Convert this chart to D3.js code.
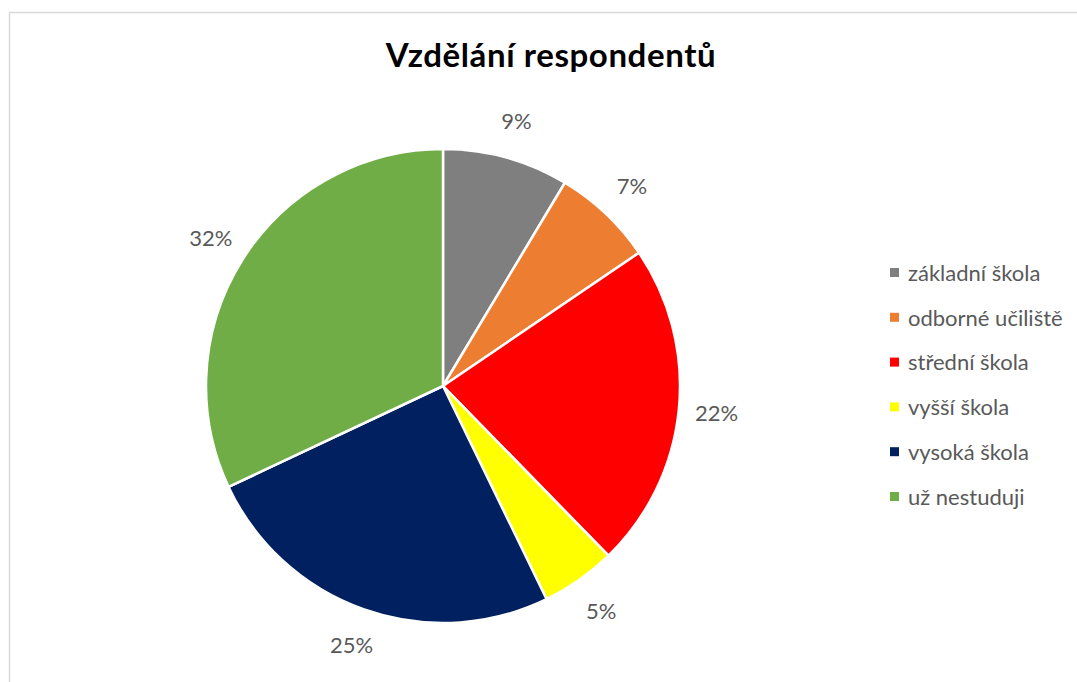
<!DOCTYPE html>
<html>
<head>
  <meta charset="utf-8">
  <script src="https://d3js.org/d3.v7.min.js"></script>
  <style>
    body { margin: 0; background: #fff; }
    text { font-family: Lato, "Open Sans", sans-serif; }
  </style>
</head>
<body>
<script>
  // data (share of respondents, %)
  var categories = ["základní škola", "odborné učiliště", "střední škola", "vyšší škola", "vysoká škola", "už nestuduji"];
  var shares = [8.6, 6.9, 22.2, 5.1, 25.2, 32.0];
  var colors = ["#7f7f7f", "#ed7d31", "#ff0000", "#ffff00", "#002060", "#70ad47"];

  var width = 1077, height = 682;
  var cx = 443, cy = 386, radius = 237;

  var svg = d3.select("body").append("svg")
      .attr("width", width)
      .attr("height", height);

  // chart area frame (only top/left visible in the crop)
  svg.append("rect")
      .attr("x", 9.5).attr("y", 12.5)
      .attr("width", width + 20).attr("height", height + 20)
      .attr("fill", "#fff")
      .attr("stroke", "#d9d9d9")
      .attr("stroke-width", 1.5);

  svg.append("text")
      .attr("x", 551).attr("y", 67)
      .attr("text-anchor", "middle")
      .style("font-size", "33px")
      .style("font-weight", "bold")
      .style("letter-spacing", "0.6px")
      .attr("fill", "#000")
      .text("Vzdělání respondentů");

  var data = categories.map(function (c, i) { return { name: c, value: shares[i], color: colors[i] }; });
  var total = d3.sum(shares);

  var pie = d3.pie().sort(null).value(function (d) { return d.value; });
  var arc = d3.arc().innerRadius(0).outerRadius(radius);
  var labelArc = d3.arc().innerRadius(275).outerRadius(275);

  var g = svg.append("g").attr("transform", "translate(" + cx + "," + cy + ")");
  var arcs = pie(data);

  g.selectAll("path")
    .data(arcs)
    .enter().append("path")
      .attr("d", arc)
      .attr("fill", function (d) { return d.data.color; })
      .attr("stroke", "#fff")
      .attr("stroke-width", 2.5)
      .attr("stroke-linejoin", "round");

  g.selectAll("text.lbl")
    .data(arcs)
    .enter().append("text")
      .attr("class", "lbl")
      .attr("transform", function (d) { return "translate(" + labelArc.centroid(d) + ")"; })
      .attr("text-anchor", "middle")
      .attr("dy", "0.35em")
      .style("font-size", "22px")
      .attr("fill", "#595959")
      .text(function (d) { return d3.format(".0%")(d.data.value / total); });

  // legend
  var legend = svg.append("g").attr("transform", "translate(890,273)");
  var item = legend.selectAll("g")
    .data(data)
    .enter().append("g")
      .attr("transform", function (d, i) { return "translate(0," + (i * 44.8) + ")"; });
  item.append("rect")
      .attr("x", 0).attr("y", -5)
      .attr("width", 9).attr("height", 9)
      .attr("fill", function (d) { return d.color; });
  item.append("text")
      .attr("x", 18).attr("dy", "0.35em")
      .style("font-size", "22px")
      .attr("fill", "#595959")
      .text(function (d) { return d.name; });
</script>
</body>
</html>
